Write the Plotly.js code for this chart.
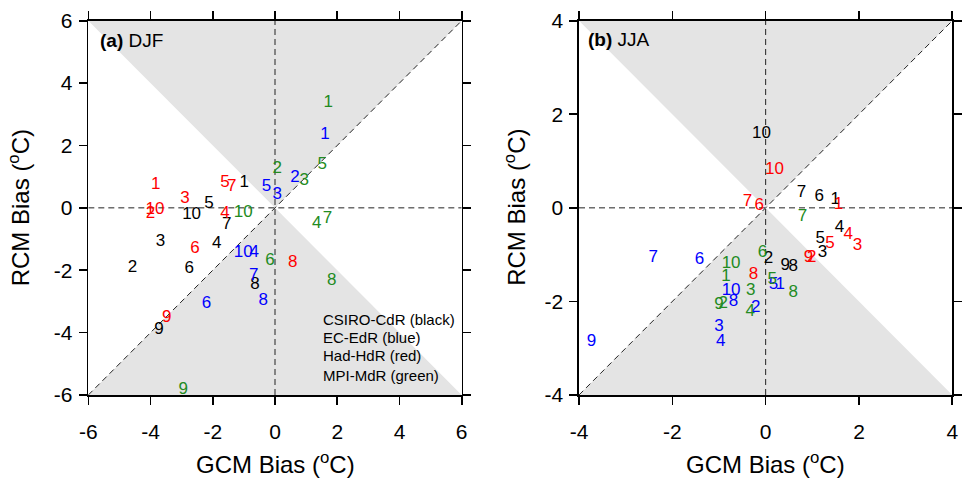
<!DOCTYPE html>
<html>
<head>
<meta charset="utf-8">
<script src="https://cdn.plot.ly/plotly-3.0.1.min.js"></script>
<style>html,body{margin:0;padding:0;background:#fff;}#chart{width:965px;height:480px;}</style>
</head>
<body>
<div id="chart"></div>
<script>
// Panel (a) DJF: GCM bias (x) and RCM bias (y), labels = ensemble member numbers
const djfCsiroLabels = ["1","2","3","4","5","6","7","8","9","10"];
const djfCsiroX = [-0.99,-4.58,-3.68,-1.87,-2.12,-2.76,-1.55,-0.64,-3.73,-2.68];
const djfCsiroY = [0.80,-1.92,-1.09,-1.14,0.14,-1.94,-0.55,-2.47,-3.92,-0.23];

const djfEcLabels = ["1","2","3","4","5","6","7","8","10"];
const djfEcX = [1.61,0.64,0.07,-0.67,-0.27,-2.20,-0.68,-0.38,-1.02];
const djfEcY = [2.33,0.97,0.41,-1.44,0.68,-3.09,-2.18,-2.98,-1.44];

const djfHadLabels = ["1","2","3","4","5","6","7","8","9","10"];
const djfHadX = [-3.83,-4.00,-2.89,-1.61,-1.61,-2.57,-1.39,0.57,-3.48,-3.86];
const djfHadY = [0.73,-0.20,0.30,-0.18,0.80,-1.30,0.68,-1.75,-3.51,-0.07];

const djfMpiLabels = ["1","2","3","4","5","6","7","8","9","10"];
const djfMpiX = [1.71,0.07,0.94,1.34,1.52,-0.16,1.69,1.82,-2.95,-1.02];
const djfMpiY = [3.37,1.24,0.86,-0.50,1.39,-1.71,-0.34,-2.34,-5.82,-0.16];

// Panel (b) JJA
const jjaCsiroLabels = ["1","2","3","4","5","6","7","8","9","10"];
const jjaCsiroX = [1.49,0.06,1.22,1.58,1.17,1.15,0.77,0.59,0.42,-0.09];
const jjaCsiroY = [0.17,-1.08,-0.96,-0.42,-0.67,0.24,0.32,-1.26,-1.24,1.59];

const jjaEcLabels = ["1","2","3","4","5","6","7","8","9","10"];
const jjaEcX = [0.31,-0.21,-1.00,-0.96,0.17,-1.42,-2.41,-0.69,-3.73,-0.74];
const jjaEcY = [-1.65,-2.13,-2.54,-2.86,-1.65,-1.10,-1.06,-2.01,-2.86,-1.78];

const jjaHadLabels = ["1","2","3","4","5","6","7","8","9","10"];
const jjaHadX = [1.56,0.99,1.97,1.77,1.38,-0.14,-0.39,-0.26,0.92,0.19];
const jjaHadY = [0.06,-1.06,-0.81,-0.58,-0.76,0.04,0.13,-1.44,-1.06,0.82];

const jjaMpiLabels = ["1","2","3","4","5","6","7","8","9","10"];
const jjaMpiX = [-0.85,-0.91,-0.32,-0.33,0.14,-0.07,0.79,0.59,-1.00,-0.74];
const jjaMpiY = [-1.47,-2.06,-1.77,-2.22,-1.53,-0.97,-0.18,-1.82,-2.08,-1.19];

const limA = 6, limB = 4;
const ticksA = [-6,-4,-2,0,2,4,6];
const ticksB = [-4,-2,0,2,4];
const legendLines = ["CSIRO-CdR (black)","EC-EdR (blue)","Had-HdR (red)","MPI-MdR (green)"];
const legendLineY = [-3.57,-4.15,-4.74,-5.36];

const FONT = "Liberation Sans, Arial, Helvetica, sans-serif";
const COLORS = {csiro:"#000000", ec:"#0000ff", had:"#ff0000", mpi:"#228b22"};
const GRAY = "#e4e4e4";

function backgroundTraces(lim, xa, ya) {
  const common = {xaxis: xa, yaxis: ya, hoverinfo: "skip", showlegend: false};
  const dashLine = {color:"#222", width:1, dash:"6px,4px"};
  return [
    Object.assign({x:[-lim, lim, 0, -lim], y:[lim, lim, 0, lim], mode:"lines", fill:"toself",
      fillcolor: GRAY, line:{width:0, color: GRAY}}, common),
    Object.assign({x:[-lim, lim, 0, -lim], y:[-lim, -lim, 0, -lim], mode:"lines", fill:"toself",
      fillcolor: GRAY, line:{width:0, color: GRAY}}, common),
    Object.assign({x:[-lim, lim], y:[-lim, lim], mode:"lines", line:dashLine}, common),
    Object.assign({x:[-lim, lim], y:[0, 0], mode:"lines", line:dashLine}, common),
    Object.assign({x:[0, 0], y:[-lim, lim], mode:"lines", line:dashLine}, common)
  ];
}
function textTrace(x, y, labels, color, xa, ya) {
  return {x:x, y:y, text:labels, mode:"text", textposition:"middle center",
    textfont:{family:FONT, size:17, color:color}, xaxis:xa, yaxis:ya,
    hoverinfo:"skip", showlegend:false, cliponaxis:false};
}

const traces = [].concat(
  backgroundTraces(limA, "x", "y"),
  backgroundTraces(limB, "x2", "y2"),
  [
    textTrace(djfCsiroX, djfCsiroY, djfCsiroLabels, COLORS.csiro, "x", "y"),
    textTrace(djfEcX, djfEcY, djfEcLabels, COLORS.ec, "x", "y"),
    textTrace(djfHadX, djfHadY, djfHadLabels, COLORS.had, "x", "y"),
    textTrace(djfMpiX, djfMpiY, djfMpiLabels, COLORS.mpi, "x", "y"),
    textTrace(jjaCsiroX, jjaCsiroY, jjaCsiroLabels, COLORS.csiro, "x2", "y2"),
    textTrace(jjaEcX, jjaEcY, jjaEcLabels, COLORS.ec, "x2", "y2"),
    textTrace(jjaHadX, jjaHadY, jjaHadLabels, COLORS.had, "x2", "y2"),
    textTrace(jjaMpiX, jjaMpiY, jjaMpiLabels, COLORS.mpi, "x2", "y2")
  ]
);

function axis(lim, ticks, domain, anchor, standoff) {
  return {range:[-lim, lim], domain:domain, anchor:anchor, tickvals:ticks,
    ticktext:ticks.map(String), showgrid:false, zeroline:false, showline:true,
    linecolor:"#000", linewidth:1.6, mirror:"ticks", ticks:"outside", ticklen:8,
    tickwidth:1.6, tickcolor:"#000", tickfont:{family:FONT, size:21, color:"#000"},
    ticklabelstandoff: standoff, fixedrange:true};
}

const W = 965, H = 480;
const yDom = [(H-395)/H, (H-20.7)/H];
const annotations = [
  {xref:"x", yref:"y", x:-5.70, y:5.38, xanchor:"left", yanchor:"middle", showarrow:false,
   text:"<b>(a)</b> DJF", font:{family:FONT, size:19, color:"#000"}},
  {xref:"x2", yref:"y2", x:-3.85, y:3.59, xanchor:"left", yanchor:"middle", showarrow:false,
   text:"<b>(b)</b> JJA", font:{family:FONT, size:19, color:"#000"}},
  {xref:"paper", yref:"paper", x:275/W, y:(H-463)/H, xanchor:"center", yanchor:"middle", showarrow:false,
   text:"GCM Bias (<sup>o</sup>C)", font:{family:FONT, size:24, color:"#000"}},
  {xref:"paper", yref:"paper", x:765.7/W, y:(H-463)/H, xanchor:"center", yanchor:"middle", showarrow:false,
   text:"GCM Bias (<sup>o</sup>C)", font:{family:FONT, size:24, color:"#000"}},
  {xref:"paper", yref:"paper", x:18.5/W, y:(H-207.8)/H, xanchor:"center", yanchor:"middle", showarrow:false,
   textangle:-90, text:"RCM Bias (<sup>o</sup>C)", font:{family:FONT, size:24, color:"#000"}},
  {xref:"paper", yref:"paper", x:515/W, y:(H-207.8)/H, xanchor:"center", yanchor:"middle", showarrow:false,
   textangle:-90, text:"RCM Bias (<sup>o</sup>C)", font:{family:FONT, size:24, color:"#000"}}
];
legendLines.forEach(function(t, i) {
  annotations.push({xref:"x", yref:"y", x:1.48, y:legendLineY[i], xanchor:"left", yanchor:"middle",
    align:"left", showarrow:false, text:t, font:{family:FONT, size:15, color:"#000"}});
});

const layout = {
  width: W, height: H,
  margin: {l:0, r:0, t:0, b:0},
  paper_bgcolor: "#fff", plot_bgcolor: "#fff",
  showlegend: false,
  font: {family: FONT, color:"#000"},
  xaxis: axis(limA, ticksA, [88.3/W, 461.7/W], "y", 9),
  yaxis: axis(limA, ticksA, yDom, "x", 2),
  xaxis2: axis(limB, ticksB, [579/W, 952.3/W], "y2", 9),
  yaxis2: axis(limB, ticksB, yDom, "x2", 2),
  annotations: annotations
};

Plotly.newPlot("chart", traces, layout, {staticPlot:true, displayModeBar:false});
</script>
</body>
</html>
